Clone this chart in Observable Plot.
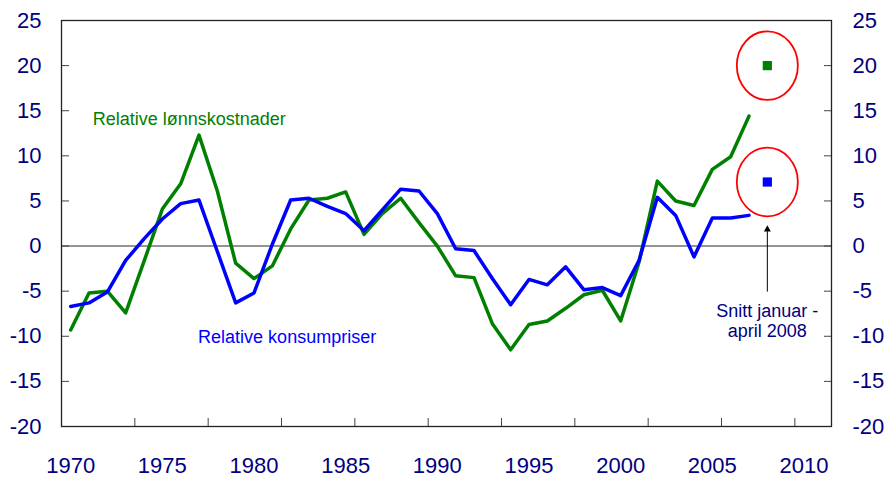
<!DOCTYPE html>
<html><head><meta charset="utf-8">
<script src="https://cdn.jsdelivr.net/npm/d3@7"></script>
<script src="https://cdn.jsdelivr.net/npm/@observablehq/plot@0.6"></script>
<style>body{margin:0;background:#fff}#chart svg{display:block}</style>
</head><body><div id="chart"></div>
<script>
const years = [1970,1971,1972,1973,1974,1975,1976,1977,1978,1979,1980,1981,1982,1983,1984,1985,1986,1987,1988,1989,1990,1991,1992,1993,1994,1995,1996,1997,1998,1999,2000,2001,2002,2003,2004,2005,2006,2007];
const wageCosts = [-9.3,-5.2,-5.0,-7.4,-1.7,4.1,6.9,12.3,6.1,-1.9,-3.6,-2.2,1.9,5.1,5.3,6.0,1.3,3.6,5.3,2.6,0.0,-3.3,-3.5,-8.6,-11.5,-8.7,-8.3,-6.9,-5.4,-4.9,-8.3,-1.8,7.2,5.0,4.5,8.5,9.9,14.4];
const consumerPrices = [-6.7,-6.3,-5.1,-1.6,0.8,3.0,4.7,5.1,-0.6,-6.3,-5.2,0.2,5.1,5.3,4.4,3.6,1.7,4.0,6.3,6.1,3.6,-0.3,-0.5,-3.6,-6.5,-3.7,-4.3,-2.3,-4.85,-4.6,-5.5,-1.6,5.4,3.4,-1.2,3.1,3.1,3.4];
const avgYear = [2008];
const avgWage = [20.0];
const avgPrices = [7.1];
const yTicks = [-20,-15,-10,-5,0,5,10,15,20,25];
const xTickLabels = [1970,1975,1980,1985,1990,1995,2000,2005,2010];
const xTickMarks = [1973.5,1977.5,1981.5,1985.5,1989.5,1993.5,1997.5,2001.5,2005.5,2009.5];
const seriesLabels = ["Relative lønnskostnader","Relative konsumpriser"];
const seriesLabelX = [1971.2,1976.95];
const seriesLabelY = [14.1,-10.1];
const noteText = "Snitt januar -\napril 2008";

const rows = years.map((year,i)=>({year, wage: wageCosts[i], cpi: consumerPrices[i]}));
const avgRows = [
  {year: avgYear[0], value: avgWage[0], color: "#008000"},
  {year: avgYear[0], value: avgPrices[0], color: "#0000ff"}
];
const labelRows = seriesLabels.map((t,i)=>({t, x: seriesLabelX[i], y: seriesLabelY[i], c: i===0?"#008000":"#0000ff"}));

const ellipse = {draw(ctx, size){
  const ry = Math.sqrt(size/Math.PI), rx = ry*0.89, k = 0.5523;
  ctx.moveTo(rx,0);
  ctx.bezierCurveTo(rx,k*ry,k*rx,ry,0,ry);
  ctx.bezierCurveTo(-k*rx,ry,-rx,k*ry,-rx,0);
  ctx.bezierCurveTo(-rx,-k*ry,-k*rx,-ry,0,-ry);
  ctx.bezierCurveTo(k*rx,-ry,rx,-k*ry,rx,0);
  ctx.closePath();
}};

const navy = "#000080";
const font = "'Liberation Sans', Arial, Helvetica, sans-serif";
const fmt = d => String(d);

const chart = Plot.plot({
  width: 888, height: 477,
  marginLeft: 61, marginRight: 57, marginTop: 20, marginBottom: 51,
  style: {fontFamily: font, background: "white"},
  x: {domain: [1969.5, 2011.5]},
  y: {domain: [-20, 25]},
  marks: [
    Plot.ruleY([0], {stroke: "#707070", strokeWidth: 1.5}),
    // tick labels
    Plot.axisY(yTicks, {anchor: "left", tickSize: 0, tickPadding: 20, fontSize: 22, fill: navy, label: null, tickFormat: fmt}),
    Plot.axisY(yTicks, {anchor: "right", tickSize: 0, tickPadding: 21, fontSize: 22, fill: navy, label: null, tickFormat: fmt}),
    Plot.axisX(xTickLabels, {anchor: "bottom", tickSize: 0, tickPadding: 31, fontSize: 22, fill: navy, label: null, tickFormat: fmt}),
    // inward tick marks
    Plot.axisY(yTicks, {anchor: "left", tickSize: -8, tickFormat: () => "", stroke: "#444", label: null}),
    Plot.axisY(yTicks, {anchor: "right", tickSize: -8, tickFormat: () => "", stroke: "#444", label: null}),
    Plot.axisX(xTickMarks, {anchor: "bottom", tickSize: -8, tickFormat: () => "", stroke: "#444", label: null}),
    Plot.line(rows, {x: "year", y: "wage", stroke: "#008000", strokeWidth: 3.5}),
    Plot.line(rows, {x: "year", y: "cpi", stroke: "#0000ff", strokeWidth: 3.5}),
    Plot.dot(avgRows, {x: "year", y: "value", symbol: "square", r: 5.2, fill: "color", stroke: null}),
    Plot.dot(avgRows, {x: "year", y: "value", symbol: ellipse, r: 34.3, stroke: "#ff0000", strokeWidth: 1.8, fill: "none"}),
    Plot.ruleX(avgYear, {y1: -5.1, y2: 1.6, stroke: "#000", strokeWidth: 1}),
    Plot.dot(avgYear, {x: d => d, y: 1.85, symbol: "triangle", r: 2.6, fill: "#000", stroke: null}),
    Plot.text([noteText], {x: avgYear[0], y: -6.27, lineAnchor: "top", textAnchor: "middle", fontSize: 18, lineHeight: 1.12, fill: navy}),
    Plot.text(labelRows, {x: "x", y: "y", text: "t", fill: "c", textAnchor: "start", fontSize: 18}),
    Plot.frame({stroke: "#222", strokeWidth: 1.3})
  ]
});
document.getElementById("chart").appendChild(chart);
</script>
</body></html>
